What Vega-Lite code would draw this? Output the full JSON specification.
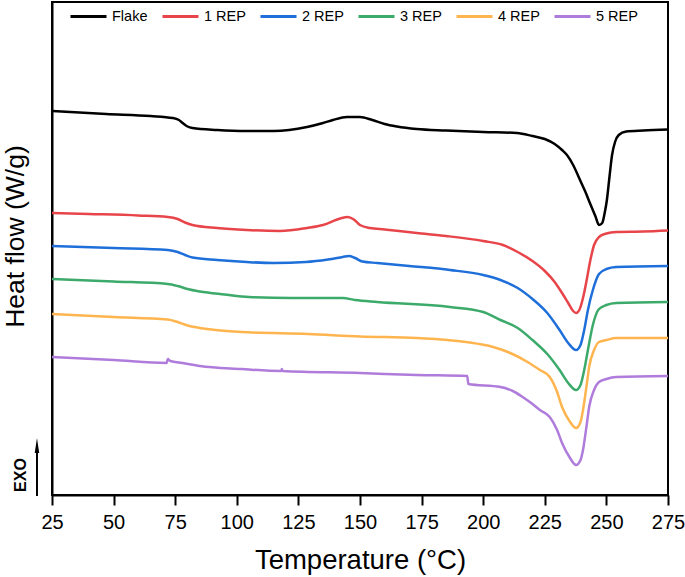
{
  "$schema": "https://vega.github.io/schema/vega-lite/v6.json",
  "width": 616,
  "height": 493,
  "autosize": {"type": "none"},
  "padding": {"left": 52, "top": 2, "right": 17, "bottom": 82},
  "background": "white",
  "config": {
    "font": "Liberation Sans",
    "view": {"stroke": "black", "strokeWidth": 2}
  },
  "datasets": {
    "dsc": [
      {"s": "Flake", "T": 25, "hf": 384}, {"s": "Flake", "T": 47, "hf": 381}, {"s": "Flake", "T": 65, "hf": 379},
      {"s": "Flake", "T": 74, "hf": 377}, {"s": "Flake", "T": 76.5, "hf": 375}, {"s": "Flake", "T": 78, "hf": 372},
      {"s": "Flake", "T": 80, "hf": 368.5}, {"s": "Flake", "T": 82, "hf": 367}, {"s": "Flake", "T": 92, "hf": 365},
      {"s": "Flake", "T": 104, "hf": 364}, {"s": "Flake", "T": 115, "hf": 364}, {"s": "Flake", "T": 128.5, "hf": 368},
      {"s": "Flake", "T": 135, "hf": 372}, {"s": "Flake", "T": 139, "hf": 375}, {"s": "Flake", "T": 144.7, "hf": 378},
      {"s": "Flake", "T": 150, "hf": 378}, {"s": "Flake", "T": 155, "hf": 375}, {"s": "Flake", "T": 160, "hf": 371},
      {"s": "Flake", "T": 165, "hf": 368.5}, {"s": "Flake", "T": 173, "hf": 366}, {"s": "Flake", "T": 185, "hf": 364.5},
      {"s": "Flake", "T": 200, "hf": 363}, {"s": "Flake", "T": 213.7, "hf": 362}, {"s": "Flake", "T": 220, "hf": 359},
      {"s": "Flake", "T": 225, "hf": 356}, {"s": "Flake", "T": 229, "hf": 351}, {"s": "Flake", "T": 232, "hf": 345},
      {"s": "Flake", "T": 234, "hf": 340}, {"s": "Flake", "T": 236.5, "hf": 330}, {"s": "Flake", "T": 239.3, "hf": 315},
      {"s": "Flake", "T": 241.5, "hf": 303}, {"s": "Flake", "T": 243.3, "hf": 292}, {"s": "Flake", "T": 245.5, "hf": 279},
      {"s": "Flake", "T": 247, "hf": 270}, {"s": "Flake", "T": 248.3, "hf": 272}, {"s": "Flake", "T": 249.3, "hf": 282},
      {"s": "Flake", "T": 250.2, "hf": 295}, {"s": "Flake", "T": 251.2, "hf": 317}, {"s": "Flake", "T": 252.3, "hf": 340},
      {"s": "Flake", "T": 253.5, "hf": 353}, {"s": "Flake", "T": 255, "hf": 360}, {"s": "Flake", "T": 258, "hf": 363.5},
      {"s": "Flake", "T": 265, "hf": 364.5}, {"s": "Flake", "T": 275, "hf": 365.5},

      {"s": "1 REP", "T": 25, "hf": 282}, {"s": "1 REP", "T": 40, "hf": 281}, {"s": "1 REP", "T": 60, "hf": 279.5},
      {"s": "1 REP", "T": 72, "hf": 278}, {"s": "1 REP", "T": 76, "hf": 276}, {"s": "1 REP", "T": 79, "hf": 272.5},
      {"s": "1 REP", "T": 82, "hf": 270}, {"s": "1 REP", "T": 92, "hf": 267}, {"s": "1 REP", "T": 104, "hf": 265},
      {"s": "1 REP", "T": 117.5, "hf": 264}, {"s": "1 REP", "T": 128.5, "hf": 267}, {"s": "1 REP", "T": 135, "hf": 270},
      {"s": "1 REP", "T": 142, "hf": 276.5}, {"s": "1 REP", "T": 145, "hf": 278}, {"s": "1 REP", "T": 147.5, "hf": 275.5},
      {"s": "1 REP", "T": 150, "hf": 270}, {"s": "1 REP", "T": 154, "hf": 267}, {"s": "1 REP", "T": 160, "hf": 265.5},
      {"s": "1 REP", "T": 173, "hf": 262}, {"s": "1 REP", "T": 185, "hf": 259}, {"s": "1 REP", "T": 200, "hf": 254},
      {"s": "1 REP", "T": 208, "hf": 250}, {"s": "1 REP", "T": 214, "hf": 243}, {"s": "1 REP", "T": 220, "hf": 234},
      {"s": "1 REP", "T": 225, "hf": 224}, {"s": "1 REP", "T": 229, "hf": 213}, {"s": "1 REP", "T": 232, "hf": 202},
      {"s": "1 REP", "T": 234.5, "hf": 192}, {"s": "1 REP", "T": 236.5, "hf": 184}, {"s": "1 REP", "T": 237.7, "hf": 182},
      {"s": "1 REP", "T": 239, "hf": 185}, {"s": "1 REP", "T": 240.5, "hf": 197}, {"s": "1 REP", "T": 242, "hf": 215},
      {"s": "1 REP", "T": 243.5, "hf": 235}, {"s": "1 REP", "T": 245, "hf": 250}, {"s": "1 REP", "T": 247, "hf": 258},
      {"s": "1 REP", "T": 250, "hf": 261.5}, {"s": "1 REP", "T": 254, "hf": 263}, {"s": "1 REP", "T": 265, "hf": 263.5},
      {"s": "1 REP", "T": 275, "hf": 264.5},

      {"s": "2 REP", "T": 25, "hf": 249}, {"s": "2 REP", "T": 50, "hf": 247}, {"s": "2 REP", "T": 72, "hf": 245},
      {"s": "2 REP", "T": 76, "hf": 243}, {"s": "2 REP", "T": 79, "hf": 240}, {"s": "2 REP", "T": 82, "hf": 237.5},
      {"s": "2 REP", "T": 92, "hf": 235}, {"s": "2 REP", "T": 104, "hf": 233}, {"s": "2 REP", "T": 115, "hf": 232},
      {"s": "2 REP", "T": 128, "hf": 233}, {"s": "2 REP", "T": 137, "hf": 235.5}, {"s": "2 REP", "T": 143, "hf": 238},
      {"s": "2 REP", "T": 145.5, "hf": 239}, {"s": "2 REP", "T": 148, "hf": 237}, {"s": "2 REP", "T": 151, "hf": 233.5},
      {"s": "2 REP", "T": 157, "hf": 232}, {"s": "2 REP", "T": 170, "hf": 229}, {"s": "2 REP", "T": 186.5, "hf": 225},
      {"s": "2 REP", "T": 200, "hf": 220}, {"s": "2 REP", "T": 207, "hf": 215}, {"s": "2 REP", "T": 214, "hf": 207},
      {"s": "2 REP", "T": 220, "hf": 196}, {"s": "2 REP", "T": 226, "hf": 182}, {"s": "2 REP", "T": 231, "hf": 165},
      {"s": "2 REP", "T": 234.5, "hf": 152}, {"s": "2 REP", "T": 237.7, "hf": 145}, {"s": "2 REP", "T": 239.5, "hf": 150},
      {"s": "2 REP", "T": 241, "hf": 165}, {"s": "2 REP", "T": 242.5, "hf": 185}, {"s": "2 REP", "T": 244.5, "hf": 205},
      {"s": "2 REP", "T": 247, "hf": 221}, {"s": "2 REP", "T": 250, "hf": 226}, {"s": "2 REP", "T": 254, "hf": 228},
      {"s": "2 REP", "T": 275, "hf": 229},

      {"s": "3 REP", "T": 25, "hf": 216}, {"s": "3 REP", "T": 50, "hf": 213.5}, {"s": "3 REP", "T": 72, "hf": 211},
      {"s": "3 REP", "T": 76, "hf": 209}, {"s": "3 REP", "T": 80, "hf": 206}, {"s": "3 REP", "T": 85, "hf": 203.5},
      {"s": "3 REP", "T": 95, "hf": 200.5}, {"s": "3 REP", "T": 105, "hf": 198}, {"s": "3 REP", "T": 122, "hf": 197},
      {"s": "3 REP", "T": 143, "hf": 197}, {"s": "3 REP", "T": 148, "hf": 195}, {"s": "3 REP", "T": 157, "hf": 193},
      {"s": "3 REP", "T": 186.5, "hf": 188}, {"s": "3 REP", "T": 200, "hf": 183}, {"s": "3 REP", "T": 207, "hf": 175},
      {"s": "3 REP", "T": 214, "hf": 167}, {"s": "3 REP", "T": 220, "hf": 155}, {"s": "3 REP", "T": 226, "hf": 141},
      {"s": "3 REP", "T": 231, "hf": 125}, {"s": "3 REP", "T": 234.5, "hf": 112}, {"s": "3 REP", "T": 237.7, "hf": 105},
      {"s": "3 REP", "T": 239.5, "hf": 110}, {"s": "3 REP", "T": 241, "hf": 125}, {"s": "3 REP", "T": 242.5, "hf": 145},
      {"s": "3 REP", "T": 244.5, "hf": 170}, {"s": "3 REP", "T": 247, "hf": 186}, {"s": "3 REP", "T": 250, "hf": 190},
      {"s": "3 REP", "T": 254, "hf": 192}, {"s": "3 REP", "T": 275, "hf": 193},

      {"s": "4 REP", "T": 25, "hf": 181}, {"s": "4 REP", "T": 50, "hf": 178}, {"s": "4 REP", "T": 72, "hf": 175.5},
      {"s": "4 REP", "T": 76, "hf": 173}, {"s": "4 REP", "T": 80, "hf": 169.5}, {"s": "4 REP", "T": 85, "hf": 167},
      {"s": "4 REP", "T": 102, "hf": 163}, {"s": "4 REP", "T": 129, "hf": 161}, {"s": "4 REP", "T": 150, "hf": 158.5},
      {"s": "4 REP", "T": 173, "hf": 157}, {"s": "4 REP", "T": 193, "hf": 153}, {"s": "4 REP", "T": 204, "hf": 148},
      {"s": "4 REP", "T": 211, "hf": 142}, {"s": "4 REP", "T": 218, "hf": 133}, {"s": "4 REP", "T": 223, "hf": 125},
      {"s": "4 REP", "T": 227, "hf": 118}, {"s": "4 REP", "T": 230, "hf": 103}, {"s": "4 REP", "T": 232, "hf": 88},
      {"s": "4 REP", "T": 235, "hf": 74}, {"s": "4 REP", "T": 237.7, "hf": 67}, {"s": "4 REP", "T": 239.5, "hf": 73},
      {"s": "4 REP", "T": 240.5, "hf": 85}, {"s": "4 REP", "T": 242, "hf": 110}, {"s": "4 REP", "T": 243, "hf": 128},
      {"s": "4 REP", "T": 245, "hf": 145}, {"s": "4 REP", "T": 247, "hf": 153}, {"s": "4 REP", "T": 250, "hf": 155},
      {"s": "4 REP", "T": 254, "hf": 157}, {"s": "4 REP", "T": 275, "hf": 157},

      {"s": "5 REP", "T": 25, "hf": 138}, {"s": "5 REP", "T": 50, "hf": 135}, {"s": "5 REP", "T": 71.5, "hf": 132},
      {"s": "5 REP", "T": 72, "hf": 136}, {"s": "5 REP", "T": 73, "hf": 134}, {"s": "5 REP", "T": 78, "hf": 132},
      {"s": "5 REP", "T": 85, "hf": 129}, {"s": "5 REP", "T": 102, "hf": 126}, {"s": "5 REP", "T": 118, "hf": 124},
      {"s": "5 REP", "T": 118.3, "hf": 126}, {"s": "5 REP", "T": 118.6, "hf": 124}, {"s": "5 REP", "T": 150, "hf": 122},
      {"s": "5 REP", "T": 173, "hf": 120}, {"s": "5 REP", "T": 193.5, "hf": 119}, {"s": "5 REP", "T": 194, "hf": 111},
      {"s": "5 REP", "T": 207, "hf": 108}, {"s": "5 REP", "T": 212, "hf": 104}, {"s": "5 REP", "T": 216, "hf": 98},
      {"s": "5 REP", "T": 220, "hf": 91}, {"s": "5 REP", "T": 223, "hf": 85}, {"s": "5 REP", "T": 227, "hf": 78},
      {"s": "5 REP", "T": 230, "hf": 65}, {"s": "5 REP", "T": 232, "hf": 52}, {"s": "5 REP", "T": 235, "hf": 38},
      {"s": "5 REP", "T": 237.7, "hf": 30}, {"s": "5 REP", "T": 239.5, "hf": 35}, {"s": "5 REP", "T": 240.5, "hf": 45},
      {"s": "5 REP", "T": 242, "hf": 70}, {"s": "5 REP", "T": 243, "hf": 88}, {"s": "5 REP", "T": 245, "hf": 105},
      {"s": "5 REP", "T": 247, "hf": 113}, {"s": "5 REP", "T": 250, "hf": 116}, {"s": "5 REP", "T": 254, "hf": 118},
      {"s": "5 REP", "T": 275, "hf": 119}
    ],
    "exo": [{"T": 18.9, "hf": -1, "hf2": 43, "tip": 49.5, "label": "EXO", "labelT": 12.6, "labelY": 20}]
  },
  "layer": [
    {
      "data": {"name": "dsc"},
      "mark": {"type": "line", "strokeWidth": 2.5, "interpolate": "monotone"},
      "encoding": {
        "x": {
          "field": "T",
          "type": "quantitative",
          "scale": {"domain": [25, 275], "nice": false, "zero": false},
          "axis": {
            "title": "Temperature (°C)",
            "values": [25, 37.5, 50, 62.5, 75, 87.5, 100, 112.5, 125, 137.5, 150, 162.5, 175, 187.5, 200, 212.5, 225, 237.5, 250, 262.5, 275],
            "labelExpr": "datum.value % 25 === 0 ? datum.label : ''",
            "labelOverlap": false,
            "labelFlush": false,
            "labelFontSize": 20,
            "labelColor": "black",
            "labelPadding": 7,
            "tickSize": {"condition": {"test": "datum.value % 25 === 0", "value": 10}, "value": 6},
            "tickWidth": 2,
            "tickColor": "black",
            "domainWidth": 2,
            "domainColor": "black",
            "grid": false,
            "titleFontSize": 27.5,
            "titleFontWeight": "normal",
            "titleColor": "black",
            "titleBaseline": "alphabetic",
            "titleY": 73
          }
        },
        "y": {
          "field": "hf",
          "type": "quantitative",
          "scale": {"domain": [0, 493], "nice": false, "zero": false},
          "axis": {
            "title": "Heat flow (W/g)",
            "labels": false,
            "ticks": false,
            "grid": false,
            "domainWidth": 2,
            "domainColor": "black",
            "titleFontSize": 26.5,
            "titleFontWeight": "normal",
            "titleColor": "black",
            "titleAngle": 270,
            "titleAlign": "center",
            "titleBaseline": "middle",
            "titleX": -37,
            "titleY": 234
          }
        },
        "color": {
          "field": "s",
          "type": "nominal",
          "scale": {
            "domain": ["Flake", "1 REP", "2 REP", "3 REP", "4 REP", "5 REP"],
            "range": ["#000000", "#E8454A", "#1E6FD9", "#3CAA6A", "#FFB54F", "#B07CDB"]
          },
          "legend": {
            "title": null,
            "orient": "none",
            "direction": "horizontal",
            "columns": 6,
            "legendX": 17,
            "legendY": -5,
            "padding": 0,
            "symbolType": "stroke",
            "symbolSize": 1296,
            "symbolStrokeWidth": 3,
            "labelFontSize": 14.5,
            "labelColor": "black",
            "labelOffset": 4,
            "columnPadding": 8
          }
        }
      }
    },
    {
      "data": {"name": "exo"},
      "mark": {"type": "rule", "color": "black", "strokeWidth": 2},
      "encoding": {
        "x": {"field": "T", "type": "quantitative"},
        "y": {"field": "hf", "type": "quantitative"},
        "y2": {"field": "hf2"}
      }
    },
    {
      "data": {"name": "exo"},
      "mark": {"type": "point", "shape": "M0,-1L0.3,1L-0.3,1Z", "filled": true, "color": "black", "opacity": 1, "size": 225},
      "encoding": {
        "x": {"field": "T", "type": "quantitative"},
        "y": {"field": "tip", "type": "quantitative"}
      }
    },
    {
      "data": {"name": "exo"},
      "mark": {"type": "text", "angle": 270, "fontWeight": "bold", "fontSize": 16, "align": "center", "baseline": "middle", "color": "black"},
      "encoding": {
        "x": {"field": "labelT", "type": "quantitative"},
        "y": {"field": "labelY", "type": "quantitative"},
        "text": {"field": "label"}
      }
    }
  ]
}
